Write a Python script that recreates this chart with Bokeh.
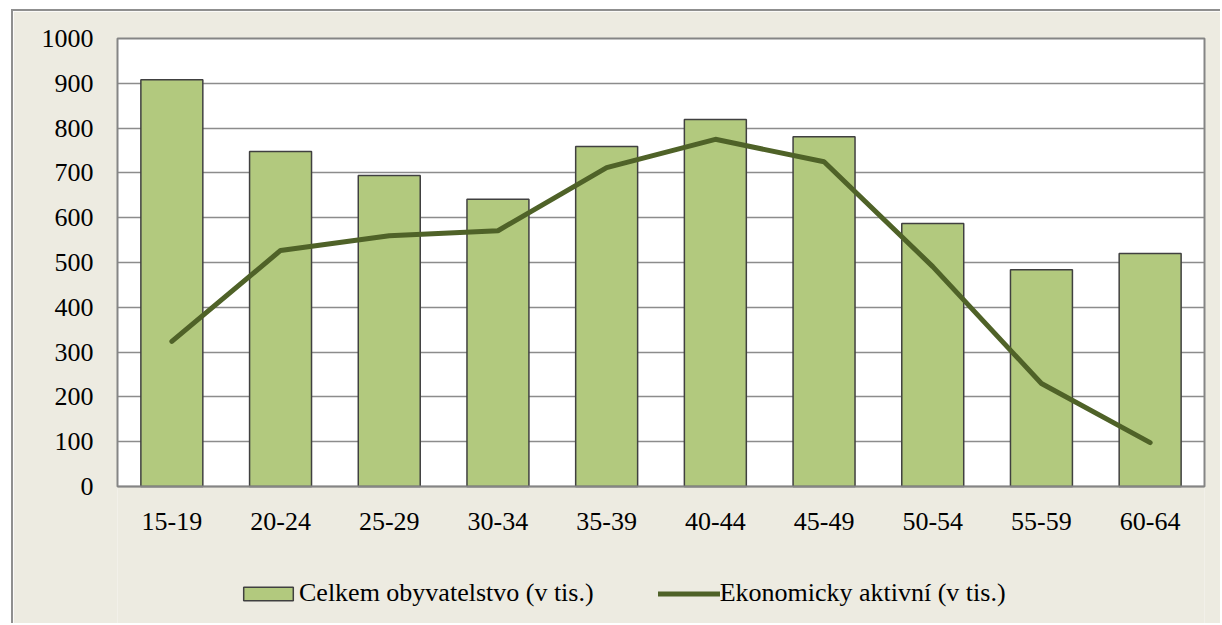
from bokeh.plotting import figure
from bokeh.models import FactorRange, Range1d, Legend, LegendItem, FixedTicker
from bokeh.embed import file_html
from bokeh.resources import INLINE

categories = ["15-19", "20-24", "25-29", "30-34", "35-39", "40-44", "45-49", "50-54", "55-59", "60-64"]
celkem = [908, 748, 694, 641, 759, 819, 781, 587, 484, 520]
aktivni = [324, 527, 560, 571, 712, 775, 725, 491, 230, 98]
y_ticks = [0, 100, 200, 300, 400, 500, 600, 700, 800, 900, 1000]
series_names = ["Celkem obyvatelstvo (v tis.)", "Ekonomicky aktivní (v tis.)"]

BG = "#EDEBE1"
GRID = "#8C8C8C"
BORDER = "#858585"
FONT = "Liberation Serif"

y_top = y_ticks[-1]
p = figure(x_range=FactorRange(*categories, range_padding=0),
           y_range=Range1d(-310, y_top),
           width=1209, height=614,
           output_backend="svg", toolbar_location=None,
           min_border_left=104, min_border_top=27,
           min_border_right=18, min_border_bottom=0)
p.styles = {"margin-left": "11px", "margin-top": "9px",
            "border-left": "2px solid #8f8f8f", "border-top": "2px solid #8f8f8f"}

p.background_fill_color = BG
p.border_fill_color = BG
p.outline_line_color = None

# white plot area (below the grid) and its gray frame
p.quad(left=0, right=len(categories), bottom=0, top=y_top,
       fill_color="white", line_color=None, level="image")

bars = p.vbar(x=categories, top=celkem, width=0.57,
              fill_color="#B2C97E", line_color="#404040", line_width=1.5)
ln = p.line(x=categories, y=aktivni, line_color="#4F6228", line_width=5,
            line_cap="round")

p.quad(left=0, right=len(categories), bottom=0, top=y_top,
       fill_alpha=0, line_color=BORDER, line_width=2, level="guide")

p.xgrid.grid_line_color = None
p.yaxis.ticker = FixedTicker(ticks=y_ticks)
p.ygrid.grid_line_color = GRID
p.ygrid.grid_line_width = 1.5

p.xaxis.fixed_location = 0

for ax in (p.xaxis, p.yaxis):
    ax.axis_line_color = None
    ax.major_tick_line_color = None
    ax.minor_tick_line_color = None
    ax.major_tick_out = 0
    ax.major_tick_in = 0
    ax.major_label_text_font = FONT
    ax.major_label_text_font_size = "26px"
    ax.major_label_text_color = "black"
p.yaxis.major_label_standoff = 24
p.xaxis.major_label_standoff = 26

legend = Legend(items=[LegendItem(label=series_names[0], renderers=[bars]),
                       LegendItem(label=series_names[1], renderers=[ln])],
                orientation="horizontal", location=(120, 17),
                glyph_width=62, glyph_height=17, label_standoff=0,
                spacing=64, padding=0, margin=0,
                label_text_font=FONT, label_text_font_size="26px",
                label_text_color="black",
                background_fill_alpha=0, border_line_color=None)
p.add_layout(legend, "center")

open("out.html", "w").write(file_html(p, INLINE))
